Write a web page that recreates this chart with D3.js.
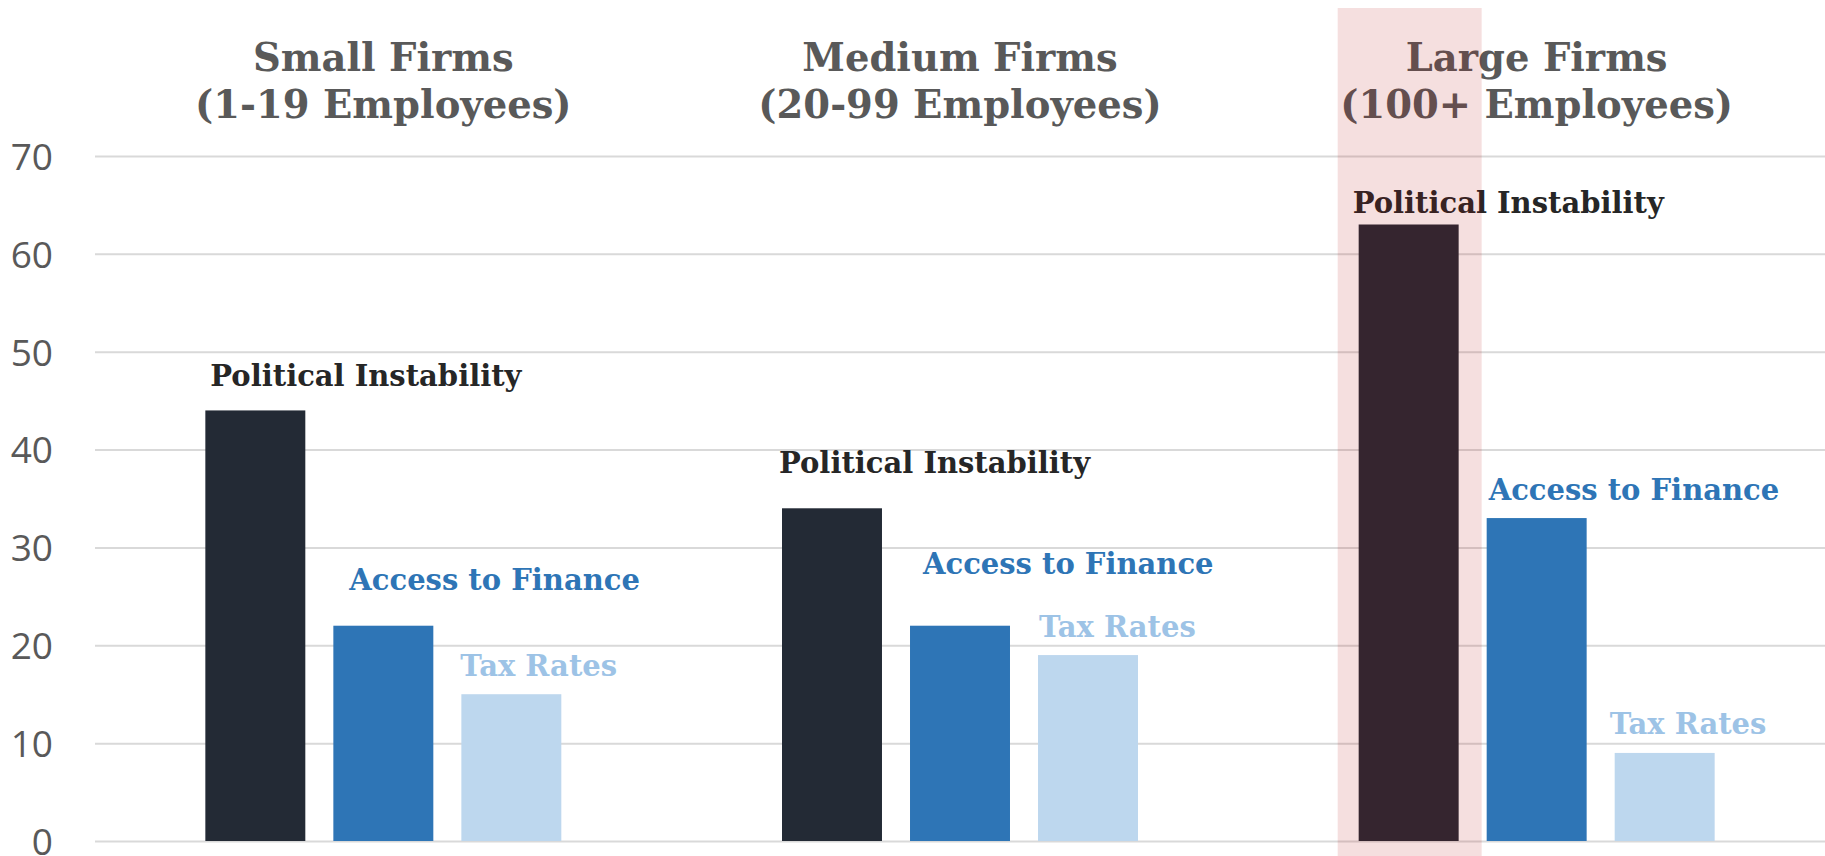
<!DOCTYPE html>
<html>
<head>
<meta charset="utf-8">
<script src="https://cdn.jsdelivr.net/npm/d3@7"></script>
<style>
  body { margin: 0; background: #fff; }
  svg { display: block; }
</style>
</head>
<body>
<div id="chart"></div>
<script>
var groups = ["Small Firms", "Medium Firms", "Large Firms"];
var groupSubtitles = ["(1-19 Employees)", "(20-99 Employees)", "(100+ Employees)"];
var series = ["Political Instability", "Access to Finance", "Tax Rates"];
var smallValues = [44, 22, 15];
var mediumValues = [34, 22, 19];
var largeValues = [63, 33, 9];
var yTicks = [0, 10, 20, 30, 40, 50, 60, 70];
var highlightGroup = "Large Firms";

var values = [smallValues, mediumValues, largeValues];

// hand placed labels, like in the original: [dx from bar left, dy from bar top]
var labelNudge = [
  [[5, -24], [16, -36], [-1, -18]],
  [[-3, -35], [13, -52], [1, -18]],
  [[-6, -12], [2, -18], [-5, -19]]
];

var barColors = ["#232a35", "#2e75b6", "#bdd7ee"];
var labelColors = ["#262626", "#2e75b6", "#9dc3e6"];

var width = 1825, height = 856;
var plotLeft = 95, plotRight = 1825, plotTop = 156, plotBottom = 841;

var svg = d3.select("#chart").append("svg")
    .attr("width", width)
    .attr("height", height);

var x0 = d3.scaleBand()
    .domain(groups)
    .range([plotLeft, plotRight]);

var x1 = d3.scaleBand()
    .domain(series)
    .range([0, x0.bandwidth()])
    .paddingInner(0.219)
    .paddingOuter(0.862);

var y = d3.scaleLinear()
    .domain([0, 70])
    .range([plotBottom, plotTop]);

// gridlines + tick labels
var yAxis = svg.append("g")
    .attr("transform", "translate(" + plotLeft + ",0)")
    .call(d3.axisLeft(y).tickValues(yTicks).tickSize(-(plotRight - plotLeft)).tickPadding(42));

yAxis.select(".domain").remove();
yAxis.selectAll(".tick line")
    .attr("stroke", "#d9d9d9")
    .attr("stroke-width", 2);
yAxis.selectAll(".tick text")
    .attr("fill", "#595959")
    .attr("dy", "0.36em")
    .style("font-family", "'Open Sans', sans-serif")
    .style("font-size", "37px");

var rows = [];
groups.forEach(function(g, gi) {
  series.forEach(function(s, si) {
    rows.push({group: g, gi: gi, series: s, si: si, value: values[gi][si]});
  });
});

function barX(d) { return x0(d.group) + x1(d.series); }

svg.selectAll(".bar")
    .data(rows)
  .enter().append("rect")
    .attr("class", "bar")
    .attr("x", barX)
    .attr("width", x1.bandwidth())
    .attr("y", function(d) { return y(d.value); })
    .attr("height", function(d) { return y(0) - y(d.value); })
    .style("fill", function(d) { return barColors[d.si]; });

svg.selectAll(".lbl")
    .data(rows)
  .enter().append("text")
    .attr("class", "lbl")
    .attr("x", function(d) { return barX(d) + labelNudge[d.gi][d.si][0]; })
    .attr("y", function(d) { return y(d.value) + labelNudge[d.gi][d.si][1]; })
    .style("font-family", "'DejaVu Serif', serif")
    .style("font-weight", "bold")
    .style("font-size", "29px")
    .style("fill", function(d) { return labelColors[d.si]; })
    .text(function(d) { return d.series; });

// group headers
var head = svg.selectAll(".head")
    .data(groups)
  .enter().append("text")
    .attr("class", "head")
    .attr("text-anchor", "middle")
    .style("font-family", "'DejaVu Serif', serif")
    .style("font-weight", "bold")
    .style("font-size", "38.5px")
    .style("fill", "#595959");

head.append("tspan")
    .attr("x", function(d) { return x0(d) + x0.bandwidth() / 2; })
    .attr("y", 71)
    .text(function(d) { return d; });
head.append("tspan")
    .attr("x", function(d) { return x0(d) + x0.bandwidth() / 2; })
    .attr("y", 118)
    .text(function(d, i) { return groupSubtitles[i]; });

// highlight band over the large firms' top bar
svg.append("rect")
    .attr("x", x0(highlightGroup) + x1(series[0]) - 21)
    .attr("width", x1.bandwidth() + 44)
    .attr("y", 8)
    .attr("height", height - 8)
    .style("fill", "rgb(180,5,5)")
    .style("fill-opacity", 0.13);
</script>
</body>
</html>
